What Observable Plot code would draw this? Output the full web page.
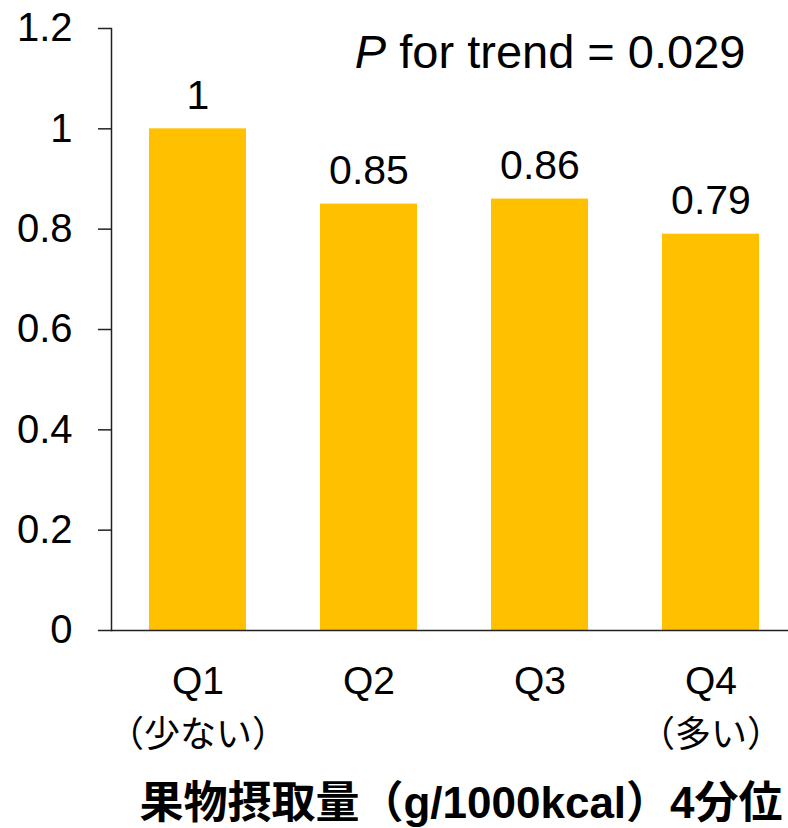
<!DOCTYPE html>
<html><head><meta charset="utf-8">
<script src="https://cdn.jsdelivr.net/npm/d3@7"></script>
<script src="https://cdn.jsdelivr.net/npm/@observablehq/plot@0.6"></script>
<style>body{margin:0;background:#fff} #chart svg{display:block}</style>
</head><body><div id="chart"></div>
<script>
const categories = ["Q1", "Q2", "Q3", "Q4"];
const sublabels = ["（少ない）", "", "", "（多い）"];
const values = [1, 0.85, 0.86, 0.79];
const valueLabels = ["1", "0.85", "0.86", "0.79"];
const yTicks = [0, 0.2, 0.4, 0.6, 0.8, 1, 1.2];
const yTickLabels = ["0", "0.2", "0.4", "0.6", "0.8", "1", "1.2"];
const xTitle = "果物摂取量（g/1000kcal）4分位";
const trendP = "P";
const trendRest = " for trend = 0.029";

const data = categories.map((c, i) => ({cat: c, value: values[i], label: valueLabels[i], sub: sublabels[i]}));
const font = "'Liberation Sans', Arial, 'Noto Sans CJK JP', sans-serif";
const ink = "#222";

const chart = Plot.plot({
  width: 788, height: 828,
  marginTop: 28, marginBottom: 198, marginLeft: 111, marginRight: 0,
  style: {fontFamily: font, background: "#fff", color: "#000", overflow: "visible"},
  x: {type: "band", domain: categories, range: [111, 797], paddingInner: 0.43, paddingOuter: 0.215, axis: null},
  y: {domain: [0, 1.2], axis: null},
  marks: [
    Plot.barY(data, {x: "cat", y: "value", fill: "#FFC000"}),
    Plot.ruleY([0], {stroke: ink, strokeWidth: 1.5}),
    Plot.frame({anchor: "left", stroke: ink, strokeWidth: 1.5}),
    Plot.axisY({ticks: yTicks, tickFormat: d => yTickLabels[yTicks.indexOf(d)], tickSize: 13, tickPadding: 26, fontSize: 40, stroke: ink, strokeWidth: 1.5, label: null, fill: "#000"}),
    Plot.axisX({tickSize: 0, tickPadding: 36, fontSize: 39, label: null, fill: "#000"}),
    Plot.text(data, {x: "cat", text: "sub", frameAnchor: "bottom", dy: 105, lineAnchor: "middle", fontSize: 36, fill: "#000"}),
    Plot.text(data, {x: "cat", y: "value", text: "label", dy: -20, lineAnchor: "bottom", fontSize: 41, fill: "#000"}),
    Plot.text([xTitle], {frameAnchor: "bottom", dx: 11, dy: 173, lineAnchor: "middle", fontSize: 44, fontWeight: "bold", fill: "#000"}),
    Plot.text([trendP + trendRest], {frameAnchor: "top-right", dx: -43, dy: 39, textAnchor: "end", lineAnchor: "bottom", fontSize: 47, fill: "#000"})
  ]
});
document.getElementById("chart").appendChild(chart);

// italicize the leading "P"
chart.querySelectorAll("text").forEach(t => {
  if (t.textContent === trendP + trendRest) {
    t.textContent = "";
    const a = document.createElementNS("http://www.w3.org/2000/svg", "tspan");
    a.setAttribute("font-style", "italic");
    a.textContent = trendP;
    const b = document.createElementNS("http://www.w3.org/2000/svg", "tspan");
    b.textContent = trendRest;
    t.appendChild(a); t.appendChild(b);
  }
});
</script>
</body></html>
